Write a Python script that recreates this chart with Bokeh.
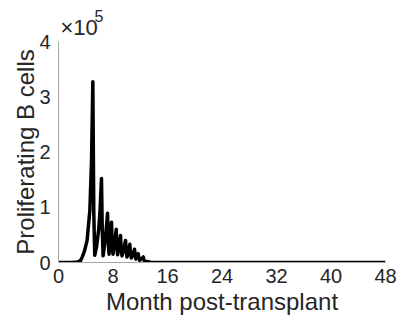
from bokeh.plotting import figure
from bokeh.models import Range1d, FixedTicker, Title
from bokeh.embed import file_html
from bokeh.resources import INLINE

# Data (months post-transplant, proliferating B cells)
months = [0, 2.0, 2.8, 3.2, 3.5, 3.8, 4.2, 4.6, 4.85, 5.04,
          5.18, 5.32, 5.6, 5.9, 6.1, 6.31, 6.42, 6.55, 6.8, 7.0,
          7.2, 7.3, 7.42, 7.6, 7.78, 7.88, 8.0, 8.25, 8.47, 8.57,
          8.68, 8.9, 9.10, 9.2, 9.32, 9.6, 9.84, 9.94, 10.05, 10.28,
          10.47, 10.57, 10.68, 10.95, 11.16, 11.26, 11.36, 11.55, 11.70, 11.8,
          11.9, 12.2, 12.44, 12.55, 12.7, 13.0, 13.5, 14, 48]
cells = [0, 0, 1000, 3000, 10000, 20000, 40000, 94000, 185000, 327000,
         90000, 13000, 30000, 60000, 95000, 152000, 60000, 12000, 35000, 60000,
         89000, 40000, 15000, 40000, 73000, 35000, 15000, 35000, 60000, 30000,
         14000, 30000, 49000, 25000, 12000, 25000, 40000, 20000, 10000, 20000,
         33000, 16000, 8000, 15000, 24000, 12000, 6000, 10000, 16000, 8000,
         4000, 7000, 10000, 4000, 2000, 2000, 500, 0, 0]

x_ticks = [0, 8, 16, 24, 32, 40, 48]
y_ticks = [0, 100000, 200000, 300000, 400000]
y_tick_labels = ["0", "1", "2", "3", "4"]

FONT = "Liberation Sans"
TXT = "#262626"
AX = "#a6a6a6"

p = figure(width=403, height=327, output_backend="svg", toolbar_location=None,
           x_range=Range1d(0, 48), y_range=Range1d(0, 400000),
           min_border_left=58, min_border_right=18, min_border_top=41,
           min_border_bottom=65)
p.outline_line_color = None
p.xgrid.visible = False
p.ygrid.visible = False
p.background_fill_color = "white"
p.border_fill_color = "white"

p.line(months, cells, line_color="black", line_width=3.5, line_join="round")

for ax in (p.xaxis[0], p.yaxis[0]):
    ax.axis_line_color = AX
    ax.axis_line_width = 1
    ax.major_tick_line_color = None
    ax.minor_tick_line_color = None
    ax.major_tick_in = 0
    ax.major_tick_out = 0
    ax.major_label_text_font = FONT
    ax.major_label_text_font_size = "20px"
    ax.major_label_text_color = TXT
    ax.axis_label_text_font = FONT
    ax.axis_label_text_font_size = "24px"
    ax.axis_label_text_font_style = "normal"
    ax.axis_label_text_color = TXT

p.xaxis.ticker = FixedTicker(ticks=x_ticks)
p.yaxis.ticker = FixedTicker(ticks=y_ticks)
p.yaxis.major_label_overrides = {t: s for t, s in zip(y_ticks, y_tick_labels)}
p.xaxis.axis_label = "Month post-transplant"
p.yaxis.axis_label = "Proliferating B cells"
p.xaxis.major_label_standoff = 6
p.xaxis.axis_label_standoff = 2
p.yaxis.major_label_standoff = 8
p.yaxis.axis_label_standoff = -3

# exponent marker above the y axis, drawn as two stacked titles
p.add_layout(Title(text="×10", align="left", offset=2, standoff=3,
                   text_font=FONT, text_font_size="22px", text_font_style="normal",
                   text_color=TXT), "above")
p.add_layout(Title(text="5", align="left", offset=36, standoff=-20,
                   text_font=FONT, text_font_size="16px", text_font_style="normal",
                   text_color=TXT), "above")

open("out.html", "w").write(file_html(p, INLINE))
